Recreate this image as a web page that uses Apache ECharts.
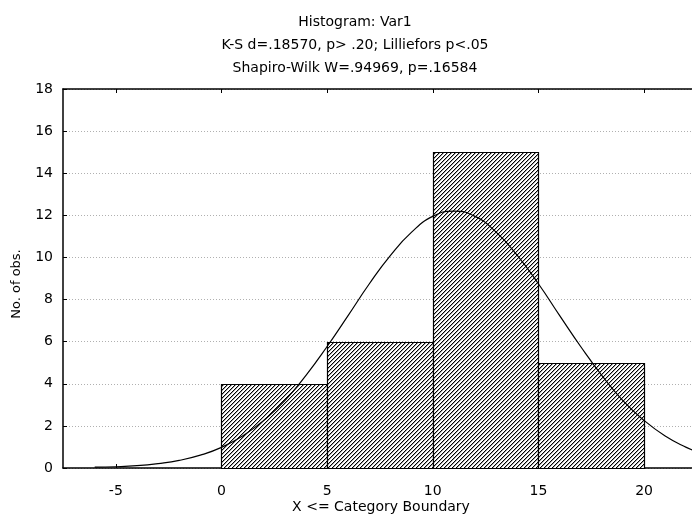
<!DOCTYPE html>
<html>
<head>
<meta charset="utf-8">
<script src="https://cdn.jsdelivr.net/npm/echarts@6/dist/echarts.min.js"></script>
<style>html,body{margin:0;padding:0;background:#fff}#c{width:692px;height:525px}</style>
</head>
<body>
<div id="c"></div>
<script>
// ---- data ----
var titleLines = ['Histogram: Var1', 'K-S d=.18570, p> .20; Lilliefors p<.05', 'Shapiro-Wilk W=.94969, p=.16584'];
var xAxisTitle = 'X <= Category Boundary';
var yAxisTitle = 'No. of obs.';
var binStart = [0, 5, 10, 15];
var binEnd = [5, 10, 15, 20];
var binCounts = [4, 6, 15, 5];
var xTicks = [-5, 0, 5, 10, 15, 20];
// expected normal curve
var curveX = [-6, -5, -4, -3, -2, -1, 0, 1, 2, 3, 4, 5, 6, 7, 8, 9, 10, 11, 12, 13, 14, 15, 16, 17, 18, 19, 20, 21, 22, 22.5];
var curveY = [0.04, 0.06, 0.11, 0.21, 0.36, 0.61, 0.98, 1.52, 2.26, 3.2, 4.4, 5.77, 7.25, 8.75, 10.1, 11.2, 11.95, 12.2, 11.95, 11.2, 10.1, 8.75, 7.25, 5.77, 4.4, 3.2, 2.26, 1.52, 0.98, 0.78];

// ---- hatch pattern ----
var pc = document.createElement('canvas');
pc.width = 4; pc.height = 4;
var pctx = pc.getContext('2d');
pctx.fillStyle = '#fff'; pctx.fillRect(0, 0, 4, 4);
pctx.fillStyle = '#000';
for (var i = 0; i < 4; i++) pctx.fillRect(3 - i, i, 1, 1);
pctx.fillStyle = 'rgba(0,0,0,0.35)';
for (var j = 0; j < 4; j++) pctx.fillRect((4 - j) % 4, j, 1, 1);

var binData = binStart.map(function (s, i) { return [s, binEnd[i], binCounts[i]]; });
var curveData = curveX.map(function (x, i) { return [x, curveY[i]]; });

var font = '"DejaVu Sans", sans-serif';
var fs = 14;
var chart = echarts.init(document.getElementById('c'), null, { renderer: 'canvas' });
chart.setOption({
  backgroundColor: '#fff',
  animation: false,
  grid: { left: 63, top: 89, width: 629, height: 379 },
  graphic: titleLines.map(function (t, i) {
    return { type: 'text', x: 355, y: 22.5 + i * 23, style: { text: t, fill: '#000', font: fs + 'px ' + font, textAlign: 'center', textVerticalAlign: 'middle' } };
  }).concat([
    { type: 'text', x: 381, y: 507, style: { text: xAxisTitle, fill: '#000', font: fs + 'px ' + font, textAlign: 'center', textVerticalAlign: 'middle' } },
    { type: 'text', x: 17, y: 284, rotation: Math.PI / 2, style: { text: yAxisTitle, fill: '#000', font: '13px ' + font, textAlign: 'center', textVerticalAlign: 'middle' } }
  ]),
  xAxis: [{
    type: 'value', min: -7.5, max: 22.27, position: 'bottom',
    axisLine: { show: true, onZero: false, lineStyle: { color: '#000', width: 1.5 } },
    axisTick: { show: true, inside: true, length: 4, customValues: xTicks, lineStyle: { color: '#000' } },
    axisLabel: { customValues: xTicks, color: '#000', fontSize: fs, fontFamily: font, margin: 16 },
    splitLine: { show: false }
  }, {
    type: 'value', min: -7.5, max: 22.27, position: 'top',
    axisLine: { show: true, onZero: false, lineStyle: { color: '#000', width: 1.5 } },
    axisTick: { show: true, inside: true, length: 4, customValues: xTicks, lineStyle: { color: '#000' } },
    axisLabel: { show: false },
    splitLine: { show: false }
  }],
  yAxis: {
    type: 'value', min: 0, max: 18, interval: 2,
    axisLine: { show: true, onZero: false, lineStyle: { color: '#000', width: 1.5 } },
    axisTick: { show: true, inside: true, length: 4, lineStyle: { color: '#000' } },
    axisLabel: { color: '#000', fontSize: fs, fontFamily: font, margin: 10 },
    splitLine: { show: true, lineStyle: { color: '#b0b0b0', type: [1, 2], width: 1 } }
  },
  series: [{
    type: 'custom',
    xAxisIndex: 0,
    data: binData,
    encode: { x: [0, 1], y: 2 },
    renderItem: function (params, api) {
      var p0 = api.coord([api.value(0), 0]);
      var p1 = api.coord([api.value(1), api.value(2)]);
      return {
        type: 'rect',
        shape: { x: Math.round(p0[0]) + 0.5, y: Math.round(p1[1]) + 0.5, width: Math.round(p1[0]) - Math.round(p0[0]), height: Math.round(p0[1]) - Math.round(p1[1]) },
        style: { fill: { image: pc, repeat: 'repeat' }, stroke: '#000', lineWidth: 1.2 }
      };
    },
    z: 2
  }, {
    type: 'line',
    xAxisIndex: 0,
    data: curveData,
    smooth: true,
    showSymbol: false,
    symbol: 'none',
    lineStyle: { color: '#000', width: 1.2 },
    z: 3
  }]
});
</script>
</body>
</html>
